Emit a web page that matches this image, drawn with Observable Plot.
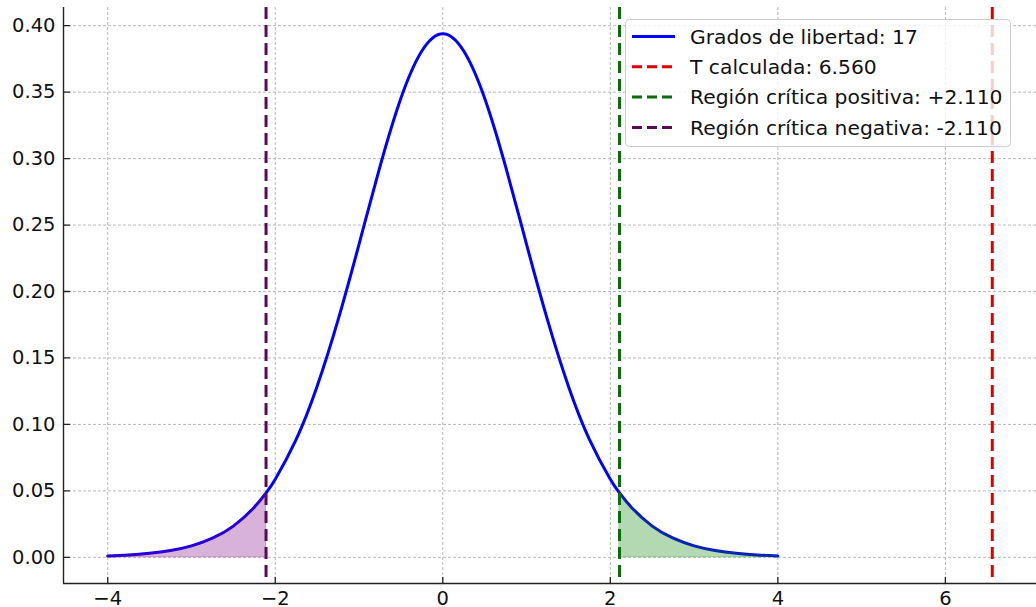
<!DOCTYPE html>
<html>
<head>
<meta charset="utf-8">
<script src="https://cdn.jsdelivr.net/npm/d3@7"></script>
<script src="https://cdn.jsdelivr.net/npm/@observablehq/plot@0.6"></script>
<style>
  html, body { margin: 0; padding: 0; background: #ffffff; }
  #chart svg { display: block; }
</style>
</head>
<body>
<div id="chart"></div>
<script>
// ---- data ----
const degreesOfFreedom = 17;
const tCalculated = 6.560;
const tCritical = 2.110;

// curve of the t density
const curveX = [-4.0, -3.75, -3.5, -3.25, -3.0, -2.75, -2.5, -2.25, -2.11, -2.0, -1.75, -1.5, -1.25, -1.0, -0.75, -0.5, -0.25, 0.0,
                0.25, 0.5, 0.75, 1.0, 1.25, 1.5, 1.75, 2.0, 2.11, 2.25, 2.5, 2.75, 3.0, 3.25, 3.5, 3.75, 4.0];
const curveY = [0.0010, 0.0017, 0.0030, 0.0051, 0.0086, 0.0144, 0.0235, 0.0377, 0.0485, 0.0588, 0.0887, 0.1287, 0.1786, 0.2355, 0.2940, 0.3455, 0.3810, 0.3940,
                0.3810, 0.3455, 0.2940, 0.2355, 0.1786, 0.1287, 0.0887, 0.0588, 0.0485, 0.0377, 0.0235, 0.0144, 0.0086, 0.0051, 0.0030, 0.0017, 0.0010];

const xTicks = [-4, -2, 0, 2, 4, 6];
const yTicks = [0.00, 0.05, 0.10, 0.15, 0.20, 0.25, 0.30, 0.35, 0.40];

const legendLabels = [
  `Grados de libertad: ${degreesOfFreedom}`,
  `T calculada: ${tCalculated.toFixed(3)}`,
  `Región crítica positiva: +${tCritical.toFixed(3)}`,
  `Región crítica negativa: -${tCritical.toFixed(3)}`
];
const legendColors = ["#0000ff", "#e00000", "#0b6b0b", "#580a58"];
const legendDashed = [false, true, true, true];

// ---- derived tables ----
const curve = curveX.map((x, i) => ({x, y: curveY[i]}));
const leftTail = curve.filter(d => d.x <= -tCritical + 1e-9);
const rightTail = curve.filter(d => d.x >= tCritical - 1e-9);

const xMin = -4.528, xMax = 7.088;
const yMin = -0.0197, yMax = 0.4137;

const tickShape = {draw(context, l) { context.moveTo(0, 0); context.lineTo(0, -l); }};

const fontFamily = "'DejaVu Sans', sans-serif";

const svg = Plot.plot({
  width: 1036,
  height: 607,
  marginLeft: 63,
  marginRight: 0,
  marginTop: 7,
  marginBottom: 24,
  style: {fontFamily, fontSize: "19.5px", color: "#111111", background: "#ffffff", overflow: "visible"},
  x: {domain: [xMin, xMax], label: null},
  y: {domain: [yMin, yMax], label: null},
  marks: [
    Plot.gridX(xTicks, {stroke: "#b0b0b0", strokeOpacity: 1, strokeWidth: 0.9, strokeDasharray: "3,2"}),
    Plot.gridY(yTicks, {stroke: "#b0b0b0", strokeOpacity: 1, strokeWidth: 0.9, strokeDasharray: "3,2"}),
    Plot.axisX(xTicks, {tickSize: 0, tickPadding: 8, tickFormat: d3.format("d"), fontSize: "19.5px", fill: "#111111", label: null}),
    Plot.axisY(yTicks, {tickSize: 0, tickPadding: 8, tickFormat: d3.format(".2f"), fontSize: "19.5px", fill: "#111111", label: null}),
    Plot.line(curve, {x: "x", y: "y", stroke: "#0000ff", strokeWidth: 3, curve: "natural"}),
    Plot.areaY(leftTail, {x: "x", y: "y", fill: "#800080", fillOpacity: 0.3, stroke: "#800080", strokeOpacity: 0.3, strokeWidth: 1, curve: "natural"}),
    Plot.areaY(rightTail, {x: "x", y: "y", fill: "#008000", fillOpacity: 0.3, stroke: "#008000", strokeOpacity: 0.3, strokeWidth: 1, curve: "natural"}),
    Plot.ruleX([tCalculated], {stroke: "#e00000", strokeWidth: 3, strokeDasharray: "12,6"}),
    Plot.ruleX([tCritical], {stroke: "#0b6b0b", strokeWidth: 3, strokeDasharray: "12,6"}),
    Plot.ruleX([-tCritical], {stroke: "#580a58", strokeWidth: 3, strokeDasharray: "12,6"}),
    Plot.vector(xTicks, {x: d => d, y: yMin, length: 6, rotate: 0, anchor: "start", shape: tickShape, stroke: "#222", strokeWidth: 1.3}),
    Plot.vector(yTicks, {y: d => d, x: xMin, length: 6, rotate: 90, anchor: "start", shape: tickShape, stroke: "#222", strokeWidth: 1.3}),
    Plot.ruleY([yMin], {stroke: "#222", strokeWidth: 1.4}),
    Plot.ruleX([xMin], {stroke: "#222", strokeWidth: 1.4})
  ]
});

// ---- legend (inside the plot, upper right) ----
const lg = d3.select(svg).append("g")
  .attr("font-family", fontFamily).attr("font-size", "20.3px").attr("text-anchor", "start");
lg.append("rect")
  .attr("x", 625.5).attr("y", 19.5).attr("width", 385).attr("height", 127)
  .attr("rx", 4).attr("ry", 4)
  .attr("fill", "#ffffff").attr("fill-opacity", 0.8)
  .attr("stroke", "#cccccc").attr("stroke-width", 1);
legendLabels.forEach((label, i) => {
  const cy = 36.5 + i * 30.3;
  lg.append("line")
    .attr("x1", 632).attr("x2", 675).attr("y1", cy).attr("y2", cy)
    .attr("stroke", legendColors[i]).attr("stroke-width", 3)
    .attr("stroke-dasharray", legendDashed[i] ? "10,5" : null);
  lg.append("text")
    .attr("x", 690).attr("y", cy).attr("dy", "0.35em")
    .attr("text-anchor", "start")
    .attr("fill", "#111111")
    .text(label);
});

document.getElementById("chart").appendChild(svg);
</script>
</body>
</html>
